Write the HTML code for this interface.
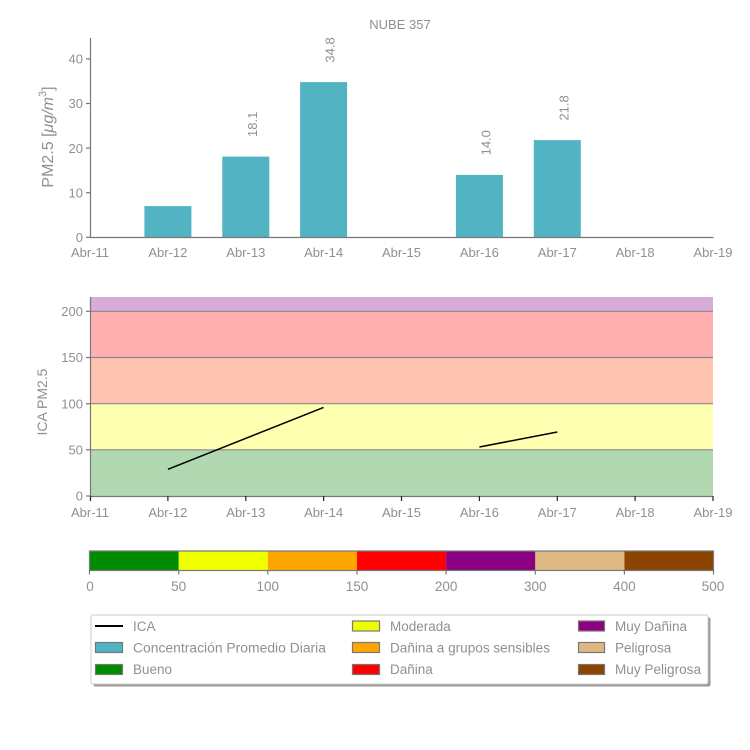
<!DOCTYPE html>
<html>
<head>
<meta charset="utf-8">
<style>
  html, body { margin:0; padding:0; background:#fff; }
  svg { display:block; }
  text { font-family: "Liberation Sans", "DejaVu Sans", sans-serif; fill:#909090; }
</style>
</head>
<body>
<svg width="750" height="750" viewBox="0 0 750 750" xmlns="http://www.w3.org/2000/svg">
  <rect x="0" y="0" width="750" height="750" fill="#fff"/>

  <!-- Title -->
  <text x="400" y="29" font-size="13" text-anchor="middle" fill="#aaa">NUBE 357</text>

  <!-- ===== TOP CHART ===== -->
  <g fill="#52b4c3">
    <rect x="144.4" y="206.1" width="47" height="31.2"/>
    <rect x="222.3" y="156.6" width="47" height="80.7"/>
    <rect x="300.1" y="82.1" width="47" height="155.2"/>
    <rect x="455.9" y="174.9" width="47" height="62.4"/>
    <rect x="533.8" y="140.1" width="47" height="97.2"/>
  </g>
  <g font-size="13">
    <text transform="translate(257,137) rotate(-90)">18.1</text>
    <text transform="translate(334.5,62.6) rotate(-90)">34.8</text>
    <text transform="translate(490.5,155.4) rotate(-90)">14.0</text>
    <text transform="translate(568.5,120.6) rotate(-90)">21.8</text>
  </g>
  <g stroke="#777" stroke-width="1.2" fill="none">
    <line x1="90.5" y1="38" x2="90.5" y2="237.5"/>
    <line x1="90" y1="237.5" x2="713.5" y2="237.5"/>
    <line x1="86" y1="237.3" x2="90" y2="237.3"/>
    <line x1="86" y1="192.7" x2="90" y2="192.7"/>
    <line x1="86" y1="148.1" x2="90" y2="148.1"/>
    <line x1="86" y1="103.5" x2="90" y2="103.5"/>
    <line x1="86" y1="58.9" x2="90" y2="58.9"/>
  </g>
  <g font-size="13" text-anchor="end">
    <text x="83" y="242">0</text>
    <text x="83" y="197.4">10</text>
    <text x="83" y="152.8">20</text>
    <text x="83" y="108.2">30</text>
    <text x="83" y="63.6">40</text>
  </g>
  <g font-size="13" text-anchor="middle">
    <text x="90" y="257">Abr-11</text>
    <text x="167.9" y="257">Abr-12</text>
    <text x="245.8" y="257">Abr-13</text>
    <text x="323.6" y="257">Abr-14</text>
    <text x="401.5" y="257">Abr-15</text>
    <text x="479.4" y="257">Abr-16</text>
    <text x="557.3" y="257">Abr-17</text>
    <text x="635.1" y="257">Abr-18</text>
    <text x="713" y="257">Abr-19</text>
  </g>
  <text transform="translate(53,137) rotate(-90)" font-size="16" text-anchor="middle">PM2.5 [<tspan font-style="italic">μg/m</tspan><tspan font-size="11" dy="-7">3</tspan><tspan dy="7">]</tspan></text>

  <!-- ===== BOTTOM CHART ===== -->
  <rect x="90" y="297" width="623" height="14.3" fill="#d8acd8"/>
  <rect x="90" y="311.3" width="623" height="46.2" fill="#ffb0b0"/>
  <rect x="90" y="357.5" width="623" height="46.2" fill="#ffc4b0"/>
  <rect x="90" y="403.7" width="623" height="46.1" fill="#ffffb2"/>
  <rect x="90" y="449.8" width="623" height="46.2" fill="#b2d8b2"/>
  <g stroke="#888" stroke-width="1.2">
    <line x1="90" y1="311.3" x2="713" y2="311.3"/>
    <line x1="90" y1="357.5" x2="713" y2="357.5"/>
    <line x1="90" y1="403.7" x2="713" y2="403.7"/>
    <line x1="90" y1="449.8" x2="713" y2="449.8"/>
  </g>
  <g stroke="#000" stroke-width="1.5" fill="none">
    <line x1="167.9" y1="469.3" x2="323.6" y2="407.4"/>
    <line x1="479.4" y1="447" x2="557.3" y2="432"/>
  </g>
  <g stroke="#777" stroke-width="1.2" fill="none">
    <line x1="90.5" y1="297" x2="90.5" y2="496.5"/>
    <line x1="90" y1="496.5" x2="713.5" y2="496.5"/>
    <line x1="86" y1="496" x2="90" y2="496"/>
    <line x1="86" y1="449.8" x2="90" y2="449.8"/>
    <line x1="86" y1="403.7" x2="90" y2="403.7"/>
    <line x1="86" y1="357.5" x2="90" y2="357.5"/>
    <line x1="86" y1="311.3" x2="90" y2="311.3"/>
  </g>
  <g stroke="#222" stroke-width="1.2">
    <line x1="90.5" y1="496" x2="90.5" y2="501"/>
    <line x1="167.9" y1="496" x2="167.9" y2="501"/>
    <line x1="245.8" y1="496" x2="245.8" y2="501"/>
    <line x1="323.6" y1="496" x2="323.6" y2="501"/>
    <line x1="401.5" y1="496" x2="401.5" y2="501"/>
    <line x1="479.4" y1="496" x2="479.4" y2="501"/>
    <line x1="557.3" y1="496" x2="557.3" y2="501"/>
    <line x1="635.1" y1="496" x2="635.1" y2="501"/>
    <line x1="713" y1="496" x2="713" y2="501"/>
  </g>
  <g font-size="13" text-anchor="end">
    <text x="83" y="500.6">0</text>
    <text x="83" y="454.4">50</text>
    <text x="83" y="408.3">100</text>
    <text x="83" y="362.1">150</text>
    <text x="83" y="315.9">200</text>
  </g>
  <g font-size="13" text-anchor="middle">
    <text x="90" y="517">Abr-11</text>
    <text x="167.9" y="517">Abr-12</text>
    <text x="245.8" y="517">Abr-13</text>
    <text x="323.6" y="517">Abr-14</text>
    <text x="401.5" y="517">Abr-15</text>
    <text x="479.4" y="517">Abr-16</text>
    <text x="557.3" y="517">Abr-17</text>
    <text x="635.1" y="517">Abr-18</text>
    <text x="713" y="517">Abr-19</text>
  </g>
  <text transform="translate(47,402) rotate(-90)" font-size="14" text-anchor="middle">ICA PM2.5</text>

  <!-- ===== COLORBAR ===== -->
  <rect x="89.5" y="551" width="89.2" height="19.5" fill="#008c00"/>
  <rect x="178.7" y="551" width="89.1" height="19.5" fill="#f0ff00"/>
  <rect x="267.8" y="551" width="89.2" height="19.5" fill="#ffa500"/>
  <rect x="357" y="551" width="89.1" height="19.5" fill="#ff0000"/>
  <rect x="446.1" y="551" width="89.2" height="19.5" fill="#8b0080"/>
  <rect x="535.3" y="551" width="89.1" height="19.5" fill="#deb882"/>
  <rect x="624.4" y="551" width="89.1" height="19.5" fill="#8b4500"/>
  <rect x="89.5" y="551" width="624" height="19.5" fill="none" stroke="#777" stroke-width="1.2"/>
  <g stroke="#777" stroke-width="1.2">
    <line x1="89.5" y1="570.5" x2="89.5" y2="574.5"/>
    <line x1="178.7" y1="570.5" x2="178.7" y2="574.5"/>
    <line x1="267.8" y1="570.5" x2="267.8" y2="574.5"/>
    <line x1="357" y1="570.5" x2="357" y2="574.5"/>
    <line x1="446.1" y1="570.5" x2="446.1" y2="574.5"/>
    <line x1="535.3" y1="570.5" x2="535.3" y2="574.5"/>
    <line x1="624.4" y1="570.5" x2="624.4" y2="574.5"/>
    <line x1="713.5" y1="570.5" x2="713.5" y2="574.5"/>
  </g>
  <g font-size="13.5" text-anchor="middle">
    <text x="90" y="591">0</text>
    <text x="178.7" y="591">50</text>
    <text x="267.8" y="591">100</text>
    <text x="357" y="591">150</text>
    <text x="446.1" y="591">200</text>
    <text x="535.3" y="591">300</text>
    <text x="624.4" y="591">400</text>
    <text x="713" y="591">500</text>
  </g>

  <!-- ===== LEGEND ===== -->
  <rect x="93.5" y="617.5" width="617" height="69" rx="2" fill="#999"/>
  <rect x="91" y="615" width="617" height="69" rx="2" fill="#fff" stroke="#ccc" stroke-width="1"/>
  <line x1="95" y1="626" x2="123" y2="626" stroke="#000" stroke-width="2"/>
  <g stroke="#777" stroke-width="1.2">
    <rect x="95.5" y="642.5" width="27" height="10" fill="#52b4c3"/>
    <rect x="95.5" y="664.5" width="27" height="10" fill="#008c00"/>
    <rect x="352.5" y="621" width="27" height="10" fill="#f0ff00"/>
    <rect x="352.5" y="642.5" width="27" height="10" fill="#ffa500"/>
    <rect x="352.5" y="664.5" width="27" height="10" fill="#ff0000"/>
    <rect x="578.5" y="621" width="26" height="10" fill="#8b0080"/>
    <rect x="578.5" y="642.5" width="26" height="10" fill="#deb882"/>
    <rect x="578.5" y="664.5" width="26" height="10" fill="#8b4500"/>
  </g>
  <g font-size="13.5">
    <text x="133" y="631">ICA</text>
    <text x="133" y="652.5" textLength="193" lengthAdjust="spacingAndGlyphs">Concentración Promedio Diaria</text>
    <text x="133" y="674">Bueno</text>
    <text x="390" y="631">Moderada</text>
    <text x="390" y="652.5" textLength="160" lengthAdjust="spacingAndGlyphs">Dañina a grupos sensibles</text>
    <text x="390" y="674">Dañina</text>
    <text x="615" y="631">Muy Dañina</text>
    <text x="615" y="652.5">Peligrosa</text>
    <text x="615" y="674" textLength="86" lengthAdjust="spacingAndGlyphs">Muy Peligrosa</text>
  </g>
</svg>
</body>
</html>
